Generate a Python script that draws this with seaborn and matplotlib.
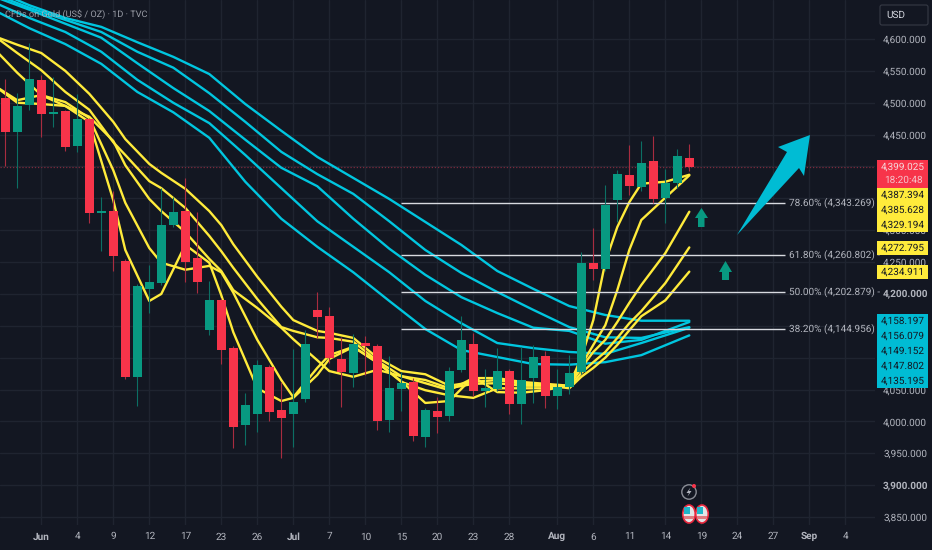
import numpy as np
import pandas as pd
import matplotlib
matplotlib.use('Agg')
import matplotlib.pyplot as plt
from matplotlib.patches import Polygon, Rectangle, Ellipse, Circle, FancyBboxPatch
import seaborn as sns

# Candles, one per trading day
candle_open = [4508, 4454, 4496, 4536, 4482, 4487, 4432, 4474, 4327, 4330, 4252, 4070, 4208, 4217, 4308, 4330, 4256, 4143, 4191, 4115,
               3994, 4012, 4085, 4018, 4012, 4035, 4175, 4165, 4098, 4076, 4123, 4118, 4002, 4051, 4062, 3976, 4016, 4008, 4081, 4122,
               4048, 4051, 4079, 4027, 4068, 4103, 4040, 4054, 4078, 4249, 4239, 4347, 4387, 4368, 4409, 4351, 4374, 4413]
candle_high = [4537, 4515, 4594, 4544, 4540, 4489, 4514, 4476, 4352, 4362, 4255, 4216, 4245, 4366, 4352, 4382, 4329, 4220, 4194, 4118,
               4045, 4096, 4088, 4062, 4114, 4143, 4203, 4180, 4132, 4137, 4134, 4122, 4103, 4078, 4068, 4021, 4038, 4085, 4165, 4139,
               4082, 4115, 4082, 4117, 4120, 4110, 4082, 4104, 4266, 4303, 4371, 4394, 4434, 4440, 4448, 4396, 4427, 4435]
candle_low = [4401, 4366, 4489, 4446, 4462, 4424, 4423, 4311, 4267, 4236, 4067, 4024, 4170, 4214, 4305, 4219, 4202, 4136, 4090, 3958,
              3963, 3983, 4000, 3943, 3960, 4030, 4131, 4092, 4023, 4054, 4073, 3987, 3983, 4016, 3969, 3960, 3982, 4000, 4078, 4040,
              4023, 4048, 4012, 3996, 4029, 4021, 4020, 4043, 4074, 4222, 4236, 4313, 4355, 4362, 4343, 4311, 4366, 4393]
candle_close = [4454, 4495, 4537, 4482, 4485, 4431, 4474, 4327, 4330, 4260, 4070, 4212, 4219, 4308, 4329, 4250, 4219, 4191, 4112, 3991,
                4026, 4088, 4015, 4005, 4030, 4122, 4164, 4099, 4078, 4122, 4118, 4001, 4052, 4060, 3977, 4018, 4007, 4079, 4128, 4048,
                4052, 4079, 4027, 4065, 4101, 4040, 4054, 4076, 4249, 4239, 4340, 4388, 4369, 4405, 4349, 4374, 4416, 4399]

# Slow moving averages
cyan_idx = [-1, 2, 5, 8, 11, 14, 17, 20, 23, 26, 29, 32, 35, 38, 41, 44, 47, 50, 53, 57]
cyan_a = [4677, 4653, 4633, 4619, 4595, 4572, 4545, 4498, 4456, 4415, 4382, 4349, 4313, 4277, 4236, 4208, 4181, 4167, 4158, 4158]
cyan_b = [4671, 4649, 4630, 4611, 4580, 4555, 4515, 4470, 4423, 4388, 4357, 4314, 4269, 4233, 4203, 4175, 4148, 4132, 4131, 4148]
cyan_c = [4667, 4646, 4624, 4602, 4562, 4523, 4487, 4442, 4398, 4369, 4318, 4271, 4230, 4195, 4170, 4147, 4142, 4122, 4128, 4156]
cyan_d = [4658, 4633, 4611, 4580, 4536, 4500, 4468, 4418, 4366, 4314, 4274, 4234, 4189, 4154, 4123, 4115, 4109, 4106, 4123, 4147]
cyan_e = [4646, 4617, 4592, 4561, 4517, 4485, 4445, 4376, 4318, 4274, 4234, 4189, 4145, 4112, 4101, 4090, 4089, 4093, 4104, 4135]

# Fast moving averages
yellow_idx = [-1, 1, 3, 5, 7, 9, 10, 12, 13, 15, 17, 18, 19, 21, 23, 24, 26, 27, 29, 31, 33, 35, 37, 39, 41, 43, 45, 47, 48, 49, 50, 51, 52, 53, 55, 57]
yellow_a = [4605, 4591, 4578, 4550, 4514, 4470, 4443, 4404, 4390, 4365, 4330, 4308, 4278, 4227, 4180, 4159, 4142, 4139, 4131, 4100, 4079, 4074,
            4056, 4062, 4065, 4059, 4057, 4052, 4070, 4084, 4100, 4120, 4143, 4165, 4190, 4235]
yellow_b = [4606, 4578, 4551, 4517, 4489, 4438, 4418, 4377, 4366, 4335, 4291, 4267, 4241, 4192, 4148, 4142, 4132, 4131, 4125, 4095, 4071, 4065,
            4052, 4059, 4060, 4056, 4056, 4054, 4076, 4093, 4109, 4131, 4154, 4173, 4217, 4273]
yellow_c = [4586, 4547, 4512, 4495, 4478, 4440, 4402, 4349, 4330, 4297, 4255, 4236, 4206, 4178, 4147, 4129, 4096, 4079, 4070, 4081, 4071, 4060,
            4049, 4068, 4068, 4062, 4059, 4056, 4084, 4109, 4128, 4156, 4186, 4214, 4264, 4329]
yellow_d = [4528, 4504, 4512, 4501, 4476, 4394, 4343, 4272, 4249, 4238, 4244, 4234, 4202, 4128, 4065, 4038, 4084, 4104, 4117, 4093, 4062, 4049,
            4041, 4037, 4052, 4052, 4052, 4057, 4088, 4120, 4151, 4206, 4269, 4316, 4351, 4386]
yellow_e = [4528, 4500, 4498, 4495, 4470, 4347, 4269, 4189, 4200, 4277, 4249, 4198, 4140, 4052, 4032, 4037, 4073, 4098, 4117, 4092, 4063, 4029,
            4032, 4070, 4046, 4045, 4049, 4057, 4100, 4159, 4250, 4305, 4344, 4373, 4376, 4387]

# Fibonacci levels
fib_values = [4343.269, 4260.802, 4202.879, 4144.956]
fib_labels = ['78.60% (4,343.269) -', '61.80% (4,260.802) -', '50.00% (4,202.879) -', '38.20% (4,144.956) -']

# Axis ticks
x_tick_idx = [3, 6, 9, 12, 15, 18, 21, 24, 27, 30, 33, 36, 39, 42, 46, 49, 52, 55, 58, 61, 64, 67, 70]
x_tick_labels = ['Jun', '4', '9', '12', '17', '23', '26', 'Jul', '7', '10', '15', '20', '23', '28', 'Aug', '6', '11', '14', '19', '24', '27', 'Sep', '4']
y_ticks = [3850, 3900, 3950, 4000, 4050, 4100, 4150, 4200, 4250, 4300, 4350, 4400, 4450, 4500, 4550, 4600]
# these sit fully behind the price badges
y_hidden = [4100, 4150, 4350, 4400]
last_price = 4399.025

BG = '#131722'
GRID = '#1f2430'
GREEN = '#089981'
RED = '#f7344a'
YELLOW = '#ffeb3b'
CYAN = '#00c6df'
TEXT = '#b2b5be'
AXIS_FS = 7.2

sns.set_theme(style='dark', rc={'axes.facecolor': BG, 'figure.facecolor': BG})
plt.rcParams['font.family'] = ['Roboto', 'DejaVu Sans']
plt.rcParams['text.hinting'] = 'none'

fig = plt.figure(figsize=(9.32, 5.5), dpi=100)
ax = fig.add_axes([0, 25 / 550, 875 / 932, 525 / 550])

# Moving averages through seaborn
rows = []
for name, vals in zip('abcde', [cyan_a, cyan_b, cyan_c, cyan_d, cyan_e]):
    rows.append(pd.DataFrame({'idx': cyan_idx, 'price': vals, 'line': 'c' + name}))
for name, vals in zip('abcde', [yellow_a, yellow_b, yellow_c, yellow_d, yellow_e]):
    rows.append(pd.DataFrame({'idx': yellow_idx, 'price': vals, 'line': 'y' + name}))
ma_df = pd.concat(rows, ignore_index=True)
palette = {k: (CYAN if k[0] == 'c' else YELLOW) for k in ma_df['line'].unique()}
sns.lineplot(data=ma_df, x='idx', y='price', hue='line', palette=palette, estimator=None,
             errorbar=None, legend=False, linewidth=1.7, ax=ax, zorder=3)

# Fibonacci lines
ax.hlines(fib_values, 33, 65, color='#d8dae0', linewidth=1.0, zorder=4)
for val, lab in zip(fib_values, fib_labels):
    ax.text(65.3, val, lab, color=TEXT, fontsize=AXIS_FS, va='center', ha='left', zorder=6)

# Candles
idx = np.arange(len(candle_open))
o = np.array(candle_open)
c = np.array(candle_close)
up = c >= o
ax.vlines(idx[up], np.array(candle_low)[up], np.array(candle_high)[up], color='#0c6f64', linewidth=0.8, zorder=5)
ax.vlines(idx[~up], np.array(candle_low)[~up], np.array(candle_high)[~up], color='#a82c40', linewidth=0.8, zorder=5)
ax.bar(idx[up], (c - o)[up], bottom=o[up], width=0.75, color=GREEN, linewidth=0, zorder=5.5)
ax.bar(idx[~up], (c - o)[~up], bottom=o[~up], width=0.75, color=RED, linewidth=0, zorder=5.5)

# Last price line
ax.axhline(last_price, color='#7d2a3c', linewidth=0.9, linestyle=(0, (1, 1.5)), zorder=2)

ax.set_xlim(-0.4417, 72.475)
ax.set_ylim(3837.5, 4661.2)
ax.set_xticks(x_tick_idx)
ax.set_xticklabels(x_tick_labels)
ax.set_yticks(y_ticks)
ax.set_yticklabels(['' if v in y_hidden else f'{v:,.3f}' for v in y_ticks])
ax.yaxis.tick_right()
ax.tick_params(axis='x', length=0, pad=5, labelsize=AXIS_FS, colors=TEXT)
ax.tick_params(axis='y', length=0, pad=5.8, labelsize=AXIS_FS, colors=TEXT)
for lab in ax.get_xticklabels():
    if lab.get_text() in ('Jun', 'Jul', 'Aug', 'Sep'):
        lab.set_fontweight('bold')
for lab in ax.get_yticklabels():
    if lab.get_text() in ('4,200.000', '3,900.000'):
        lab.set_fontweight('bold')
ax.grid(True, color=GRID, linewidth=1.0)
ax.set_axisbelow(True)
ax.set_xlabel('')
ax.set_ylabel('')
sns.despine(ax=ax, left=True, right=True, top=True, bottom=True)

ax.text(5.5 / 12 - 0.4417, 4661.2 - 14 * 1.569, 'CFDs on Gold (US$ / OZ) · 1D · TVC', color=TEXT, alpha=0.85,
        fontsize=6.6, va='center', ha='left', zorder=7)

# Overlay in pixels for badges, drawn arrows and icons
ov = fig.add_axes([0, 0, 1, 1], facecolor='none')
ov.set_xlim(0, 932)
ov.set_ylim(550, 0)
ov.axis('off')


def badge(y0, y1, color, texts, text_color='#131722'):
    ov.add_patch(Rectangle((877, y0), 51, y1 - y0, color=color, linewidth=0, zorder=3))
    for ty, t in texts:
        ov.text(903, ty, t, color=text_color, fontsize=AXIS_FS, ha='center', va='center', zorder=4)


badge(160, 188, RED, [(166.5, '4,399.025')], '#f5d8dc')
ov.text(903, 180, '18:20:48', color='#f5c4ca', fontsize=AXIS_FS, ha='center', va='center', zorder=4)
badge(188, 232, YELLOW, [(194.5, '4,387.394'), (209.5, '4,385.628'), (224.5, '4,329.194')])
badge(241, 255, YELLOW, [(248, '4,272.795')])
badge(265, 279, YELLOW, [(271.5, '4,234.911')])
badge(314, 388, '#00bcd4', [(320.5, '4,158.197'), (335.5, '4,156.079'), (350.5, '4,149.152'), (366, '4,147.802'), (381, '4,135.195')])

# USD button
ov.add_patch(FancyBboxPatch((880, 5), 48, 20, boxstyle='round,pad=0,rounding_size=2', facecolor=BG,
                            edgecolor='#363a45', linewidth=0.8, zorder=3))
ov.text(886, 15, 'USD', color='#d1d4dc', fontsize=AXIS_FS, ha='left', va='center', zorder=4)

# Drawn arrows
ov.add_patch(Polygon([(810, 135), (778, 147), (787, 152), (737, 235), (799, 168), (804, 176)], closed=True,
                     color='#00bcd4', linewidth=0, zorder=5))
ov.add_patch(Polygon([(701.5, 208), (708, 218), (704.5, 218), (704.5, 227), (698, 227), (698, 218), (695, 218)], closed=True,
                     color=GREEN, linewidth=0, zorder=5))
ov.add_patch(Polygon([(725.5, 261), (732, 272), (729, 272), (729, 280), (722, 280), (722, 272), (719, 272)], closed=True,
                     color=GREEN, linewidth=0, zorder=5))

# Event icons
ov.add_patch(Circle((689, 492), 7.2, facecolor=BG, edgecolor='#8a8d96', linewidth=1.0, zorder=5))
ov.add_patch(Polygon([(690.5, 487.5), (686.5, 493), (689, 493), (687.5, 496.5), (691.5, 491), (689, 491)], closed=True,
                     color='#b2b5be', linewidth=0, zorder=6))
ov.add_patch(Circle((694, 486), 2, color=RED, linewidth=0, zorder=7))
for fx in [689, 702]:
    flag = Ellipse((fx, 514), 12.5, 18, facecolor='#e4e4e6', edgecolor='#e8273d', linewidth=1.2, zorder=5)
    ov.add_patch(flag)
    ov.add_patch(Rectangle((fx - 5, 507), 6, 7, color='#1fb6c9', linewidth=0, zorder=5.5))
    ov.add_patch(Rectangle((fx - 5, 516), 10, 2.5, color='#e07a80', linewidth=0, zorder=5.5))

fig.savefig('out.png', dpi=100, facecolor=BG)
